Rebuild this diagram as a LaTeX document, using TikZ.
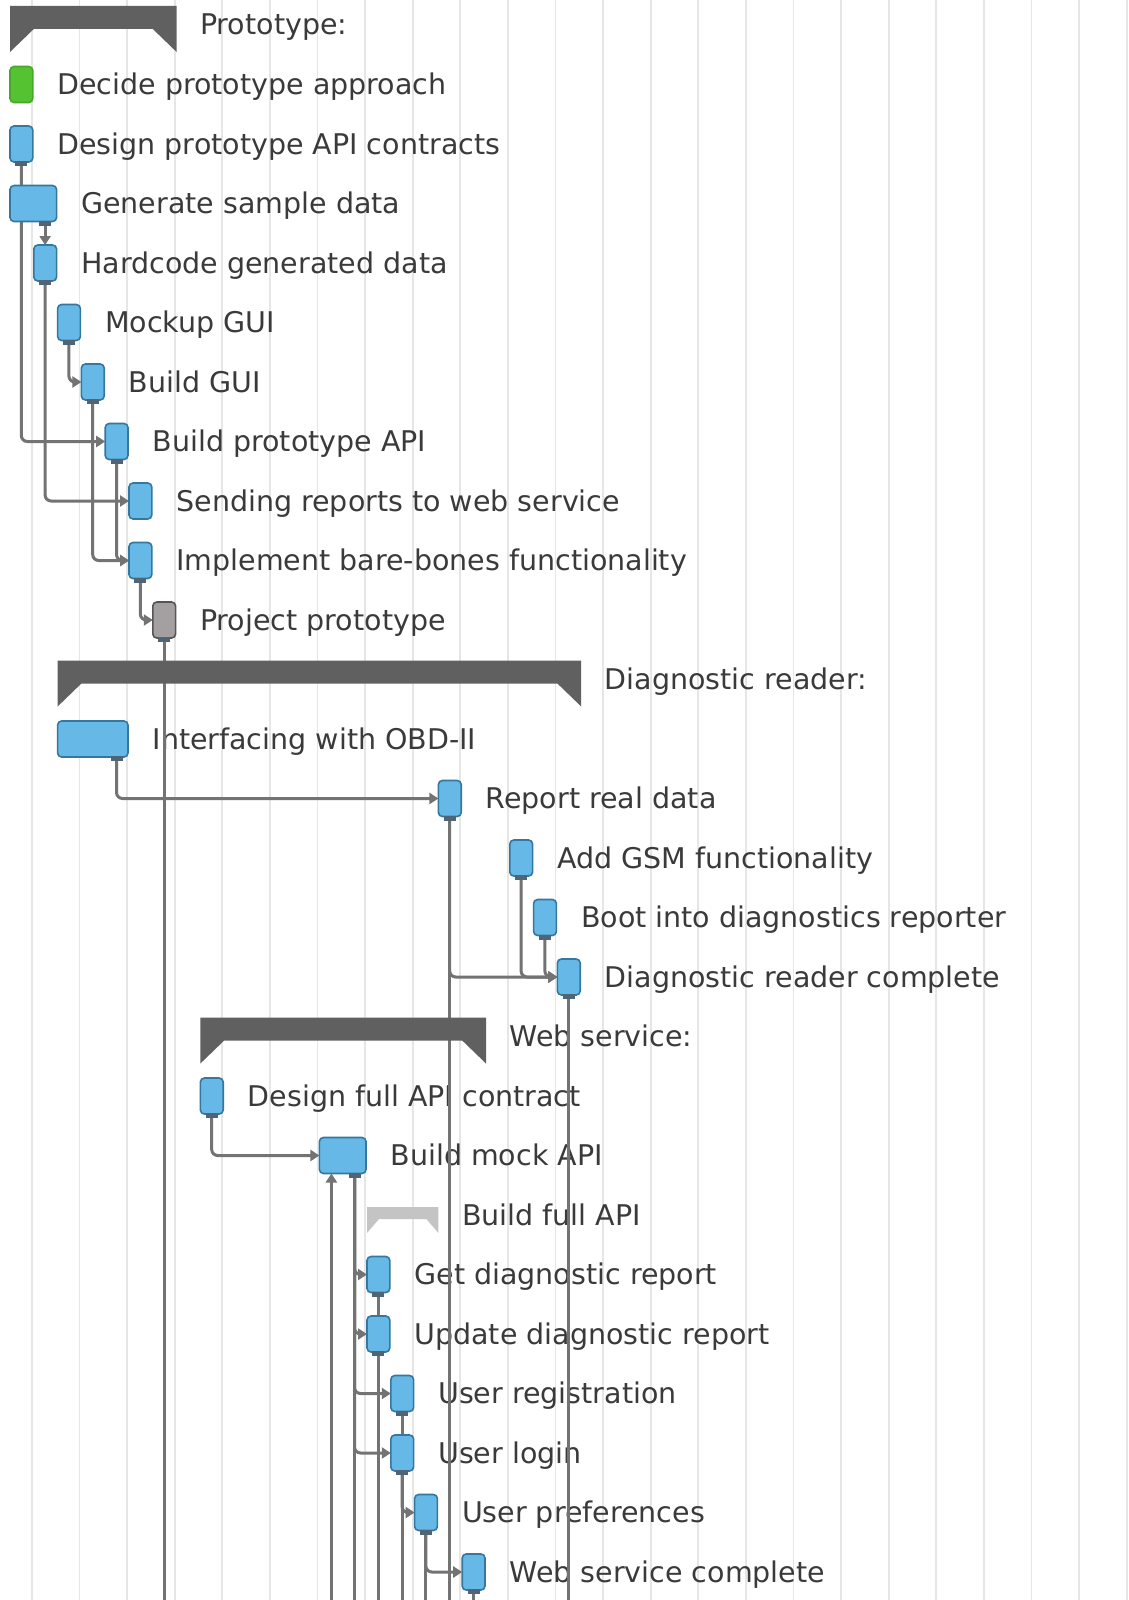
\documentclass[tikz,border=0pt]{standalone}
\usepackage{fontspec}
\setmainfont{DejaVu Sans}
\usetikzlibrary{arrows.meta}

\definecolor{barfill}{HTML}{66B8E6}
\definecolor{barline}{HTML}{35779F}
\definecolor{greenfill}{HTML}{55C232}
\definecolor{greenline}{HTML}{46A82A}
\definecolor{msfill}{HTML}{A49FA1}
\definecolor{msline}{HTML}{555555}
\definecolor{sumdark}{HTML}{606060}
\definecolor{sumlight}{HTML}{C4C4C4}
\definecolor{conncol}{HTML}{737373}
\definecolor{tabcol}{HTML}{4F6475}
\definecolor{txtcol}{HTML}{3A3A3A}
\definecolor{gridcol}{HTML}{E6E6E6}

\pgfdeclarelayer{gridlayer}
\pgfdeclarelayer{textlayer}
\pgfdeclarelayer{linelayer}
\pgfsetlayers{gridlayer,textlayer,linelayer,main}

\tikzset{
  taskbar/.style={rectangle, rounded corners=4pt, minimum height=36pt, inner sep=0pt,
    outer sep=0pt, line width=1.6pt, draw=barline, fill=barfill},
  donebar/.style={taskbar, draw=greenline, fill=greenfill},
  msbar/.style={taskbar, draw=msline, fill=msfill},
  lbl/.style={anchor=base west, inner sep=0pt, outer sep=0pt, text=txtcol,
    font=\fontsize{28.5}{34}\selectfont},
  conn/.style={draw=conncol, line width=3pt, rounded corners=6pt,
    -{Triangle[length=9pt,width=11pt]}},
  connline/.style={draw=conncol, line width=3pt},
}

% one day = 23.8 units, rows 59.5 units apart
% \gtask{name}{row}{start}{duration}{style}{label}
\newcommand\gtask[6]{%
  \pgfmathsetmacro\gtX{10+#3*23.8}%
  \pgfmathsetmacro\gtW{#4*23.8-1}%
  \pgfmathsetmacro\gtY{25+59.5*#2}%
  \node[#5, minimum width=\gtW pt, anchor=west] (#1) at (\gtX,\gtY) {};
  \coordinate (#1-out) at ([xshift=-11.5pt]#1.south east);
  \coordinate (#1-in) at ([xshift=12pt]#1.south west);
  \begin{pgfonlayer}{textlayer}
    \node[lbl] (#1-l) at (\gtX+\gtW+24.6,\gtY+10) {#6};
  \end{pgfonlayer}
}
% summary bracket: \gsum{name}{row}{start}{duration}{label}
\newcommand\gsum[5]{%
  \pgfmathsetmacro\gtX{10+#3*23.8}%
  \pgfmathsetmacro\gtR{10+(#3+#4)*23.8}%
  \pgfmathsetmacro\gtY{25+59.5*#2}%
  \fill[sumdark] (\gtX,\gtY-19) -- (\gtR,\gtY-19) -- (\gtR,\gtY+27) -- (\gtR-23.8,\gtY+4)
    -- (\gtX+23.8,\gtY+4) -- (\gtX,\gtY+27) -- cycle;
  \coordinate (#1) at (\gtX,\gtY);
  \begin{pgfonlayer}{textlayer}
    \node[lbl] (#1-l) at (\gtR+23.6,\gtY+10) {#5};
  \end{pgfonlayer}
}
% thinner, lighter summary bracket
\newcommand\gsumlight[5]{%
  \pgfmathsetmacro\gtX{10+#3*23.8}%
  \pgfmathsetmacro\gtR{10+(#3+#4)*23.8}%
  \pgfmathsetmacro\gtY{25+59.5*#2}%
  \fill[sumlight] (\gtX,\gtY-8) -- (\gtR,\gtY-8) -- (\gtR,\gtY+18) -- (\gtR-12,\gtY+4)
    -- (\gtX+12,\gtY+4) -- (\gtX,\gtY+18) -- cycle;
  \coordinate (#1) at (\gtX,\gtY);
  \begin{pgfonlayer}{textlayer}
    \node[lbl] (#1-l) at (\gtR+23.6,\gtY+10) {#5};
  \end{pgfonlayer}
}
% small dark tab under a bar where its outgoing connector starts
\newcommand\gtab[1]{%
  \fill[tabcol] ([xshift=-6pt,yshift=1pt]#1-out) rectangle ([xshift=6pt,yshift=-4pt]#1-out);
}

\begin{document}
\begin{tikzpicture}[x=1pt,y=-1pt]
\useasboundingbox (0,0) rectangle (1128,1600);

\begin{pgfonlayer}{gridlayer}
  \fill[white] (0,0) rectangle (1128,1600);
  \foreach \k in {0,...,23}
    \draw[gridcol, line width=1.8pt] ({31.8+47.6*\k},0) -- ({31.8+47.6*\k},1600);
\end{pgfonlayer}

\coordinate (bottom) at (0,1600);

% Prototype
\gsum{proto}{0}{0}{7}{Prototype:}
\gtask{dec}{1}{0}{1}{donebar}{Decide prototype approach}
\gtask{dpa}{2}{0}{1}{taskbar}{Design prototype API contracts}
\gtask{gen}{3}{0}{2}{taskbar}{Generate sample data}
\gtask{hcd}{4}{1}{1}{taskbar}{Hardcode generated data}
\gtask{mgu}{5}{2}{1}{taskbar}{Mockup GUI}
\gtask{bgu}{6}{3}{1}{taskbar}{Build GUI}
\gtask{bpa}{7}{4}{1}{taskbar}{Build prototype API}
\gtask{srw}{8}{5}{1}{taskbar}{Sending reports to web service}
\gtask{ibb}{9}{5}{1}{taskbar}{Implement bare-bones functionality}
\gtask{ppr}{10}{6}{1}{msbar}{Project prototype}

% Diagnostic reader
\gsum{diag}{11}{2}{22}{Diagnostic reader:}
\gtask{obd}{12}{2}{3}{taskbar}{Interfacing with OBD-II}
\gtask{rrd}{13}{18}{1}{taskbar}{Report real data}
\gtask{gsm}{14}{21}{1}{taskbar}{Add GSM functionality}
\gtask{boot}{15}{22}{1}{taskbar}{Boot into diagnostics reporter}
\gtask{drc}{16}{23}{1}{taskbar}{Diagnostic reader complete}

% Web service
\gsum{web}{17}{8}{12}{Web service:}
\gtask{dfa}{18}{8}{1}{taskbar}{Design full API contract}
\gtask{bma}{19}{13}{2}{taskbar}{Build mock API}
\gsumlight{bfa}{20}{15}{3}{Build full API}
\gtask{gdr}{21}{15}{1}{taskbar}{Get diagnostic report}
\gtask{udr}{22}{15}{1}{taskbar}{Update diagnostic report}
\gtask{ureg}{23}{16}{1}{taskbar}{User registration}
\gtask{ulog}{24}{16}{1}{taskbar}{User login}
\gtask{upref}{25}{17}{1}{taskbar}{User preferences}
\gtask{wsc}{26}{19}{1}{taskbar}{Web service complete}

\foreach \t in {dpa,gen,hcd,mgu,bgu,bpa,ibb,ppr,obd,rrd,gsm,boot,drc,dfa,bma,gdr,udr,ureg,ulog,upref,wsc}
  \gtab{\t};

\begin{pgfonlayer}{linelayer}
  % prototype dependencies
  \draw[conn] (dpa-out) |- (bpa.west);
  \draw[conn] (gen-out) -- (gen-out |- hcd.north);
  \draw[conn] (hcd-out) |- (srw.west);
  \draw[conn] (mgu-out) |- (bgu.west);
  \draw[conn] (bgu-out) |- (ibb.west);
  \draw[conn] (bpa-out) |- (ibb.west);
  \draw[conn] (ibb-out) |- (ppr.west);
  \draw[connline] (ppr-out) -- (ppr-out |- bottom);
  % diagnostic reader dependencies
  \draw[conn] (obd-out) |- (rrd.west);
  \draw[conn] (rrd-out) |- (drc.west);
  \draw[connline] (rrd-out) -- (rrd-out |- bottom);
  \draw[conn] (gsm-out) |- (drc.west);
  \draw[conn] (boot-out) |- (drc.west);
  \draw[connline] (drc-out) -- (drc-out |- bottom);
  % web service dependencies
  \draw[conn] (dfa-out) |- (bma.west);
  \draw[conn] (bma-in |- bottom) -- (bma-in);
  \draw[conn] (bma-out) |- (gdr.west);
  \draw[conn] (bma-out) |- (udr.west);
  \draw[conn] (bma-out) |- (ureg.west);
  \draw[conn] (bma-out) |- (ulog.west);
  \draw[connline] (bma-out) -- (bma-out |- bottom);
  \draw[connline] (gdr-out) -- (gdr-out |- bottom);
  \draw[connline] (ureg-out) -- (ureg-out |- bottom);
  \draw[conn] (ulog-out) |- (upref.west);
  \draw[conn] (upref-out) |- (wsc.west);
  \draw[connline] (upref-out) -- (upref-out |- bottom);
  \draw[connline] (wsc-out) -- (wsc-out |- bottom);
\end{pgfonlayer}
\end{tikzpicture}
\end{document}
